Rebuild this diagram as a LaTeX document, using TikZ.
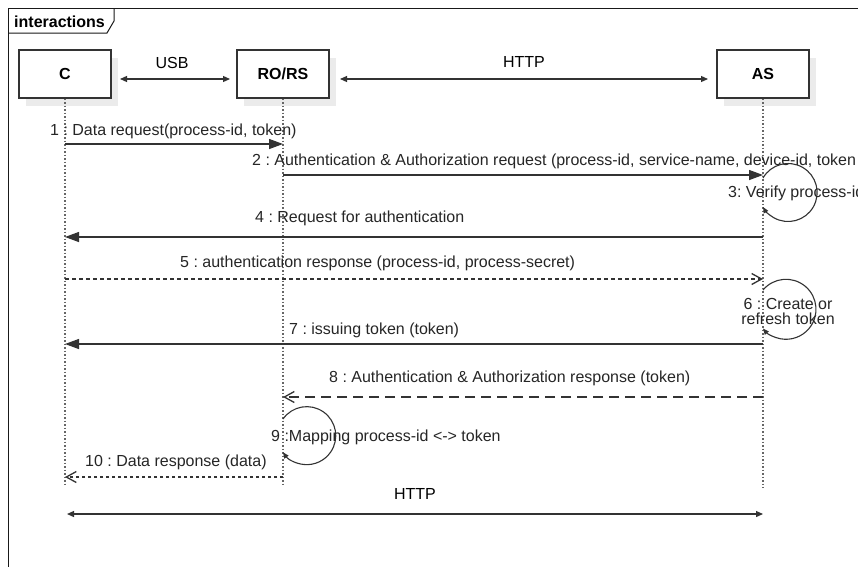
\documentclass[tikz,border=0pt]{standalone}
\usepackage{fontspec}
\setmainfont{Liberation Sans}
\usetikzlibrary{arrows.meta,shadows}
\frenchspacing
\begin{document}
\frenchspacing
\begin{tikzpicture}[x=1pt,y=-1pt,
  font=\fontsize{16}{19}\selectfont,
  actor/.style={draw=black!80, line width=1.2pt, fill=white, minimum width=92pt, minimum height=48pt, inner sep=0pt,
    font=\fontsize{16}{19}\selectfont\bfseries,
    drop shadow={shadow xshift=7pt, shadow yshift=-8pt, fill=black!8, opacity=1}},
  lifeline/.style={draw=black!60, line width=1.2pt, dash pattern=on 1.5pt off 2pt},
  lbl/.style={anchor=west, inner sep=0pt, text=black!85},
  msg/.style={draw=black!80, line width=1.3pt},
  sync/.style={msg, -{Triangle[length=14pt,width=10pt]}},
  reply/.style={msg, -{Straight Barb[length=10pt,width=11pt]}},
  link/.style={draw=black!80, line width=1.2pt, {Triangle[length=7pt,width=6pt]}-{Triangle[length=7pt,width=6pt]}},
  selfloop/.style={draw=black!80, line width=1.1pt, -{Triangle[length=6pt,width=5pt]}},
]
\clip (0,0) rectangle (858,566);
\fill[white] (0,0) rectangle (858,566);
% frame
\draw[line width=1pt, black!90] (8,8) rectangle (880,590);
\draw[line width=1pt, black!90] (8,33) -- (107,33) -- (114,21) -- (114,8);
\node[anchor=west, inner sep=0pt, font=\fontsize{16}{19}\selectfont\bfseries] (title) at (14,22) {interactions};

% participants
\node[actor] (C)  at (65,74)  {C};
\node[actor] (RO) at (283,74) {RO/RS};
\node[actor] (AS) at (763,74) {AS};

% lifelines
\coordinate (Cend) at (65,485);
\coordinate (ROend) at (283,485);
\coordinate (ASend) at (763,488);
\draw[lifeline] (C.south) -- (Cend);
\draw[lifeline] (RO.south) -- (ROend);
\draw[lifeline] (AS.south) -- (ASend);

% links
\coordinate (usbL) at (120,79); \coordinate (usbR) at (230,79);
\draw[link] (usbL) -- (usbR);
\node[inner sep=0pt] (usb) at (172,63) {USB};
\coordinate (httpL) at (340,79); \coordinate (httpR) at (708,79);
\draw[link] (httpL) -- (httpR);
\node[inner sep=0pt] (http) at (524,62) {HTTP};

% 1
\coordinate (c1) at (65,144); \coordinate (r1) at (283,144);
\draw[sync] (c1) -- (r1);
\node[lbl] (t1) at (50,131) {1 : Data request(process-id, token)};
% 2
\coordinate (r2) at (283,175); \coordinate (a2) at (763,175);
\draw[sync] (r2) -- (a2);
\node[lbl] (t2) at (252,161) {2 : Authentication \& Authorization request (process-id, service-name, device-id, token};
% 3
\coordinate (a3) at (763,178);
\draw[selfloop] (a3) arc[start angle=150, end angle=-150, radius=29pt];
\node[lbl] (t3) at (728,193) {3: Verify process-id};
% 4
\coordinate (a4) at (763,237); \coordinate (c4) at (65,237);
\draw[sync] (a4) -- (c4);
\node[lbl] (t4) at (255,218) {4 : Request for authentication};
% 5
\coordinate (c5) at (65,279); \coordinate (a5) at (763,279);
\draw[reply, dash pattern=on 4pt off 3pt] (c5) -- (a5);
\node[lbl] (t5) at (180,263) {5 : authentication response (process-id, process-secret)};
% 6
\coordinate (a6) at (763,290);
\draw[selfloop] (a6) arc[start angle=140, end angle=-140, radius=30pt];
\node[inner sep=0pt, align=center, text=black!85, font=\fontsize{16}{15}\selectfont] (t6) at (788,311) {6 : Create or\\refresh token};
% 7
\coordinate (a7) at (763,344); \coordinate (c7) at (65,344);
\draw[sync] (a7) -- (c7);
\node[lbl] (t7) at (289,330) {7 : issuing token (token)};
% 8
\coordinate (a8) at (763,397); \coordinate (r8) at (283,397);
\draw[reply, dash pattern=on 10pt off 6pt] (a8) -- (r8);
\node[lbl] (t8) at (329,378) {8 : Authentication \& Authorization response (token)};
% 9
\coordinate (r9) at (283,419);
\draw[selfloop] (r9) arc[start angle=145, end angle=-145, radius=29pt];
\node[lbl] (t9) at (271,437) {9 :Mapping process-id <-> token};
% 10
\coordinate (r10) at (283,477); \coordinate (c10) at (65,477);
\draw[reply, dash pattern=on 3pt off 3pt] (r10) -- (c10);
\node[lbl] (t10) at (85,462) {10 : Data response (data)};
% bottom HTTP
\coordinate (hL) at (67,514); \coordinate (hR) at (763,514);
\draw[link] (hL) -- (hR);
\node[inner sep=0pt] (http2) at (415,494) {HTTP};
\end{tikzpicture}
\end{document}
